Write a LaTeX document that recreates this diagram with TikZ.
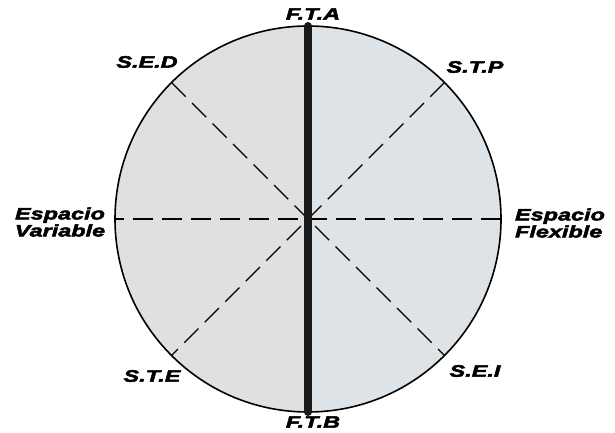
\documentclass[tikz,border=0pt]{standalone}
\usepackage{fontspec}
\newfontfamily\lblfont{Liberation Sans}[BoldItalicFeatures={FakeStretch=1.42,FakeBold=3}]
\usetikzlibrary{calc}
\definecolor{leftgray}{HTML}{E1E0DE}
\definecolor{rightgray}{HTML}{DEE3E7}

\begin{document}
\begin{tikzpicture}[x=1pt, y=1pt,
    lbl/.style={font=\lblfont\bfseries\itshape\fontsize{16.5}{17}\selectfont, inner sep=0pt, align=center},
    guide/.style={line width=1.3pt, dash pattern=on 20pt off 9pt},
    rim/.style={line width=1.6pt},
    axis/.style={line width=8pt, line cap=round, color=black!90}]
    \useasboundingbox (0,0) rectangle (615,433);
    \def\rad{193}
    \coordinate (O) at (308,214);
    % the two halves
    \fill[leftgray] (O) ++(90:\rad) arc[start angle=90, end angle=270, radius=\rad] -- cycle;
    \fill[rightgray] (O) ++(-90:\rad) arc[start angle=-90, end angle=90, radius=\rad] -- cycle;

    % points on the rim
    \foreach \a in {0,45,90,135,180,225,270,315}{
        \coordinate (P\a) at ($(O)+(\a:\rad)$);
    }
    \foreach \a in {0,45,135}{
        \pgfmathtruncatemacro{\b}{\a+180}
        \draw[guide] (P\a) -- (P\b);
    }
    \draw[rim] (O) circle (\rad);
    \draw[axis] (P90) -- (P270);

    %labels
    \node[lbl] (fta) at (313,419) {F.T.A};
    \node[lbl] (ftb) at (313,11) {F.T.B};
    \node[lbl] (sed) at (147,371) {S.E.D};
    \node[lbl] (stp) at (475,366) {S.T.P};
    \node[lbl] (ste) at (152,57) {S.T.E};
    \node[lbl] (sei) at (475,62) {S.E.I};
    \node[lbl] (var) at (60,211) {Espacio\\Variable};
    \node[lbl, align=left] (flex) at (560,210) {Espacio\\Flexible};
\end{tikzpicture}
\end{document}
